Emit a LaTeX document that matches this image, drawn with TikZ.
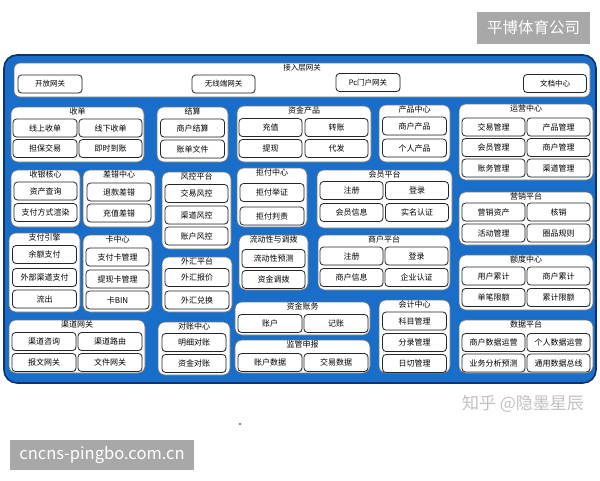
\documentclass[tikz,border=0pt]{standalone}
\usepackage{fontspec}
\newfontfamily\cjk{Noto Sans CJK SC}
\usepackage{tikz}
\usetikzlibrary{shadows}
\definecolor{panel}{RGB}{24,110,200}
\definecolor{paneledge}{RGB}{14,50,105}
\definecolor{stamp}{RGB}{168,168,168}
\definecolor{mark}{RGB}{192,192,192}
\tikzset{%
  panelbox/.style={draw=paneledge, fill=panel, line width=1.6pt, rounded corners=13pt},% blue base
  grp/.style={draw=black!55, fill=white, rounded corners=7pt, line width=0.6pt, inner sep=0pt},% module group
  unit/.style={draw=black!85, fill=white, rounded corners=3.5pt, line width=0.8pt, inner sep=0pt,
    minimum width=63pt, minimum height=18pt, font=\cjk\fontsize{8}{9}\selectfont,
    drop shadow={opacity=0.25, shadow xshift=0.6pt, shadow yshift=-0.6pt}},% single service
  ttl/.style={anchor=north, inner sep=1.3pt, font=\cjk\fontsize{8}{9}\selectfont},% group title
  stampbox/.style={fill=stamp, text=white, inner sep=0pt, font=\cjk\fontsize{15.5}{17}\selectfont}% gray label
}

\begin{document}
\begin{tikzpicture}[x=1pt, y=-1pt]
\useasboundingbox (0,0) rectangle (600,480);

\node[stampbox, minimum width=113pt, minimum height=32pt] (logo) at (533.5,28) {平博体育公司};
\node[panelbox, minimum width=592pt, minimum height=328pt] (base) at (300,219) {};

% access layer
\node[grp, minimum width=576pt, minimum height=34pt, rounded corners=6pt] (acc) at (302,80) {};
\node[ttl, font=\cjk\fontsize{7.5}{8}\selectfont] (accT) at (acc.north) {接入层网关};
\node[unit, minimum width=64pt, font=\cjk\fontsize{7.5}{8}\selectfont] (acc1) at (50,84) {开放网关};
\node[unit, font=\cjk\fontsize{7.5}{8}\selectfont] (acc2) at (223.5,84) {无线端网关};
\node[unit, minimum width=64pt, font=\cjk\fontsize{7.5}{8}\selectfont] (acc3) at (368,82.5) {Pc门户网关};
\node[unit, font=\cjk\fontsize{7.5}{8}\selectfont] (acc4) at (555,83.5) {文档中心};

% row 1
\node[grp, minimum width=133pt, minimum height=55pt] (sd) at (77.5,134.5) {};
\node[ttl] (sdT) at (sd.north) {收单};
\node[unit, minimum width=64pt] (sd1) at (45,128) {线上收单};
\node[unit] (sd2) at (110.5,128) {线下收单};
\node[unit, minimum width=64pt] (sd3) at (45,148.5) {担保交易};
\node[unit] (sd4) at (110.5,148.5) {即时到账};

\node[grp, minimum width=71pt, minimum height=55pt] (js) at (192.5,134.5) {};
\node[ttl] (jsT) at (js.north) {结算};
\node[unit, minimum width=64pt] (js1) at (192.5,128) {商户结算};
\node[unit, minimum width=64pt] (js2) at (192.5,149) {账单文件};

\node[grp, minimum width=134pt, minimum height=56pt] (zc) at (304,134) {};
\node[ttl] (zcT) at (zc.north) {资金产品};
\node[unit] (zc1) at (270.5,127.5) {充值};
\node[unit] (zc2) at (336.5,127.5) {转账};
\node[unit] (zc3) at (270.5,148.5) {提现};
\node[unit] (zc4) at (336.5,148.5) {代发};

\node[grp, minimum width=71pt, minimum height=57pt] (cp) at (414.5,133.5) {};
\node[ttl] (cpT) at (cp.north) {产品中心};
\node[unit, minimum width=64pt] (cp1) at (414.5,126) {商户产品};
\node[unit, minimum width=64pt] (cp2) at (414.5,148) {个人产品};

\node[grp, minimum width=134pt, minimum height=76pt] (yy) at (526,142) {};
\node[ttl] (yyT) at (yy.north) {运营中心};
\node[unit] (yy1) at (493.5,127) {交易管理};
\node[unit] (yy2) at (558.5,127) {产品管理};
\node[unit] (yy3) at (493.5,147.5) {会员管理};
\node[unit] (yy4) at (558.5,147.5) {商户管理};
\node[unit] (yy5) at (493.5,168) {账务管理};
\node[unit] (yy6) at (558.5,168) {渠道管理};

% row 2
\node[grp, minimum width=69pt, minimum height=57pt] (sy) at (45.5,198.5) {};
\node[ttl] (syT) at (sy.north) {收银核心};
\node[unit] (sy1) at (45.5,191) {资产查询};
\node[unit] (sy2) at (45.5,212.5) {支付方式渲染};

\node[grp, minimum width=72pt, minimum height=57pt] (cc) at (119,198.5) {};
\node[ttl] (ccT) at (cc.north) {差错中心};
\node[unit, minimum width=64pt] (cc1) at (119,192) {退款差错};
\node[unit, minimum width=64pt] (cc2) at (119,213) {充值差错};

\node[grp, minimum width=69pt, minimum height=77pt] (fk) at (196.5,210.5) {};
\node[ttl] (fkT) at (fk.north) {风控平台};
\node[unit] (fk1) at (196.5,193.5) {交易风控};
\node[unit] (fk2) at (196.5,215) {渠道风控};
\node[unit] (fk3) at (196.5,236) {账户风控};

\node[grp, minimum width=70pt, minimum height=59pt] (jf) at (272,197.5) {};
\node[ttl] (jfT) at (jf.north) {拒付中心};
\node[unit, minimum width=64pt] (jf1) at (272,192.5) {拒付举证};
\node[unit, minimum width=64pt] (jf2) at (272,216) {拒付判责};

\node[grp, minimum width=135pt, minimum height=58pt] (hy) at (384.5,199) {};
\node[ttl] (hyT) at (hy.north) {会员平台};
\node[unit] (hy1) at (351.5,190.5) {注册};
\node[unit] (hy2) at (417,190.5) {登录};
\node[unit] (hy3) at (351.5,212.5) {会员信息};
\node[unit] (hy4) at (417,212.5) {实名认证};

\node[grp, minimum width=134pt, minimum height=53pt] (yx) at (526,218.5) {};
\node[ttl] (yxT) at (yx.north) {营销平台};
\node[unit] (yx1) at (493.5,212) {营销资产};
\node[unit] (yx2) at (558.5,212) {核销};
\node[unit] (yx3) at (493.5,233) {活动管理};
\node[unit] (yx4) at (558.5,233) {圈品规则};

% row 3
\node[grp, minimum width=71pt, minimum height=79pt] (zf) at (44.5,272.5) {};
\node[ttl] (zfT) at (zf.north) {支付引擎};
\node[unit, minimum width=64pt] (zf1) at (44.5,254.5) {余额支付};
\node[unit, minimum width=64pt] (zf2) at (44.5,277.5) {外部渠道支付};
\node[unit, minimum width=64pt] (zf3) at (44.5,299) {流出};

\node[grp, minimum width=69pt, minimum height=77pt] (kz) at (117.5,273.5) {};
\node[ttl] (kzT) at (kz.north) {卡中心};
\node[unit] (kz1) at (117.5,257) {支付卡管理};
\node[unit] (kz2) at (117.5,279) {提现卡管理};
\node[unit] (kz3) at (117.5,300) {卡BIN};

\node[grp, minimum width=70pt, minimum height=55pt] (wh) at (197,284.5) {};
\node[ttl] (whT) at (wh.north) {外汇平台};
\node[unit, minimum width=64pt] (wh1) at (197,277.5) {外汇报价};
\node[unit, minimum width=64pt] (wh2) at (197,300) {外汇兑换};

\node[grp, minimum width=69pt, minimum height=55pt] (ld) at (273.5,262.5) {};
\node[ttl] (ldT) at (ld.north) {流动性与调拨};
\node[unit] (ld1) at (273.5,258.5) {流动性预测};
\node[unit] (ld2) at (273.5,279.5) {资金调拨};

\node[grp, minimum width=132pt, minimum height=55pt] (sh) at (384,262.5) {};
\node[ttl] (shT) at (sh.north) {商户平台};
\node[unit] (sh1) at (351.5,256) {注册};
\node[unit] (sh2) at (416.5,256) {登录};
\node[unit] (sh3) at (351.5,277.5) {商户信息};
\node[unit] (sh4) at (416.5,277.5) {企业认证};

\node[grp, minimum width=134pt, minimum height=55pt] (ed) at (526,282.5) {};
\node[ttl] (edT) at (ed.north) {额度中心};
\node[unit] (ed1) at (493.5,276) {用户累计};
\node[unit] (ed2) at (558.5,276) {商户累计};
\node[unit] (ed3) at (493.5,297.5) {单笔限额};
\node[unit] (ed4) at (558.5,297.5) {累计限额};

% row 4
\node[grp, minimum width=136pt, minimum height=53pt] (qd) at (77,346.5) {};
\node[ttl] (qdT) at (qd.north) {渠道网关};
\node[unit, minimum width=64pt] (qd1) at (44,341.5) {渠道咨询};
\node[unit, minimum width=64pt] (qd2) at (110,341.5) {渠道路由};
\node[unit, minimum width=64pt] (qd3) at (44,362.5) {报文网关};
\node[unit, minimum width=64pt] (qd4) at (110,362.5) {文件网关};

\node[grp, minimum width=72pt, minimum height=53pt] (dz) at (194,348.5) {};
\node[ttl] (dzT) at (dz.north) {对账中心};
\node[unit, minimum width=64pt] (dz1) at (194,342.5) {明细对账};
\node[unit, minimum width=64pt] (dz2) at (194,363.5) {资金对账};

\node[grp, minimum width=135pt, minimum height=33pt] (zw) at (302.5,318.5) {};
\node[ttl] (zwT) at (zw.north) {资金账务};
\node[unit, minimum width=64pt] (zw1) at (270,323.5) {账户};
\node[unit, minimum width=64pt] (zw2) at (336,323.5) {记账};

\node[grp, minimum width=135pt, minimum height=33pt] (jg) at (302.5,356.5) {};
\node[ttl] (jgT) at (jg.north) {监管申报};
\node[unit, minimum width=64pt] (jg1) at (270,362.5) {账户数据};
\node[unit, minimum width=64pt] (jg2) at (336,362.5) {交易数据};

\node[grp, minimum width=71pt, minimum height=73pt] (kj) at (414.5,336.5) {};
\node[ttl] (kjT) at (kj.north) {会计中心};
\node[unit, minimum width=64pt] (kj1) at (414.5,321) {科目管理};
\node[unit, minimum width=64pt] (kj2) at (414.5,342.5) {分录管理};
\node[unit, minimum width=64pt] (kj3) at (414.5,363.5) {日切管理};

\node[grp, minimum width=134pt, minimum height=53pt] (sj) at (526,346.5) {};
\node[ttl] (sjT) at (sj.north) {数据平台};
\node[unit] (sj1) at (493.5,342.5) {商户数据运营};
\node[unit] (sj2) at (558.5,342.5) {个人数据运营};
\node[unit] (sj3) at (493.5,363) {业务分析预测};
\node[unit] (sj4) at (558.5,363) {通用数据总线};

% marks under the panel
\node[text=mark, inner sep=0pt, font=\cjk\fontsize{17}{19}\selectfont] (zh) at (523,404) {知乎 @隐墨星辰};
\node[circle, fill=black, inner sep=0.6pt] (dot) at (240,424) {};
\node[stampbox, minimum width=184pt, minimum height=30pt, font=\cjk\fontsize{16.5}{18}\selectfont] (site) at (102,455) {cncns-pingbo.com.cn};
\end{tikzpicture}
\end{document}
